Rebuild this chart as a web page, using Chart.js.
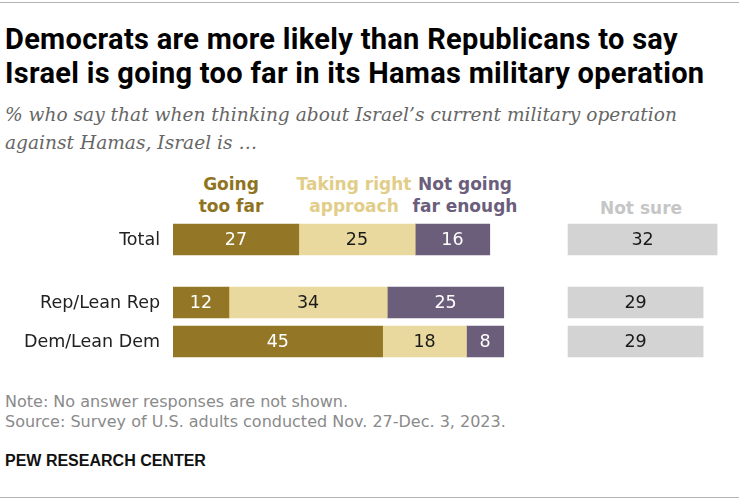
<!DOCTYPE html>
<html lang="en">
<head>
    <meta charset="UTF-8">
    <title>Israel going too far - by party</title>
    <script src="https://cdn.jsdelivr.net/npm/chart.js"></script>
    <style>
        body {
            margin: 0;
            width: 739px;
            height: 500px;
            position: relative;
            background: #fff;
            font-family: "DejaVu Sans", sans-serif;
            overflow: hidden;
        }
        .rule {
            position: absolute;
            left: 0;
            width: 739px;
            height: 1px;
            background: #b4b4b4;
        }
        h1 {
            position: absolute;
            left: 5px;
            top: 22px;
            margin: 0;
            font-family: Roboto, sans-serif;
            font-weight: 700;
            font-size: 29px;
            line-height: 34px;
            color: #000;
            letter-spacing: 0.3px;
            white-space: nowrap;
        }
        .sub {
            position: absolute;
            left: 5px;
            top: 101px;
            margin: 0;
            font-family: "DejaVu Serif", serif;
            font-style: italic;
            font-size: 18.6px;
            line-height: 28px;
            color: #666;
            white-space: nowrap;
        }
        .leg {
            position: absolute;
            font-weight: 700;
            font-size: 17px;
            line-height: 22px;
            text-align: center;
            transform: translateX(-50%);
            white-space: nowrap;
        }
        .chart {
            position: absolute;
            left: 0;
            width: 739px;
        }
        .note {
            position: absolute;
            left: 5px;
            top: 392px;
            font-size: 16px;
            line-height: 19.5px;
            color: #8a8a8a;
            white-space: nowrap;
        }
        .pew {
            position: absolute;
            left: 5px;
            top: 452px;
            font-family: "Liberation Sans", Arial, sans-serif;
            font-size: 16px;
            line-height: 18px;
            font-weight: 700;
            color: #111;
        }
    </style>
</head>
<body>

    <div class="rule" style="top:2px"></div>

    <h1>Democrats are more likely than Republicans to say<br>Israel is going too far in its Hamas military operation</h1>
    <p class="sub">% who say that when thinking about Israel’s current military operation<br>against Hamas, Israel is …</p>

    <!-- Legend headers -->
    <div class="leg" style="left:231px; top:173px; color:#8f7321;">Going<br>too far</div>
    <div class="leg" style="left:354px; top:173px; color:#e2cd88;">Taking right<br>approach</div>
    <div class="leg" style="left:465px; top:173px; color:#6b5e7c;">Not going<br>far enough</div>
    <div class="leg" style="left:641px; top:197px; color:#c6c6c6;">Not sure</div>

    <div class="chart" style="top:219.5px; height:39px;"><canvas id="chartTotal"></canvas></div>
    <div class="chart" style="top:282.5px; height:78px;"><canvas id="chartParty"></canvas></div>

    <div class="note">Note: No answer responses are not shown.<br>Source: Survey of U.S. adults conducted Nov. 27-Dec. 3, 2023.</div>
    <div class="pew">PEW RESEARCH CENTER</div>

    <div class="rule" style="top:497px"></div>

    <script>
        // Data
        const totalLabels = ['Total'];
        const partyLabels = ['Rep/Lean Rep', 'Dem/Lean Dem'];

        const tooFar       = [27, 12, 45];
        const rightWay     = [25, 34, 18];
        const notFarEnough = [16, 25, 8];
        const notSure      = [32, 29, 29];

        const colors = {
            tooFar: '#937726',
            rightWay: '#ead99e',
            notFarEnough: '#6b5e7b',
            notSure: '#d3d3d3'
        };

        // bars start at 173px, scale ~4.66 px per point
        const barLeft = 173;
        const xMax = 121.5;
        const notSureShift = 84.8;

        // value labels inside bars + row labels on the left
        const barLabels = {
            id: 'barLabels',
            afterDatasetsDraw(chart) {
                const ctx = chart.ctx;
                ctx.save();
                ctx.font = '17.5px "DejaVu Sans", sans-serif';
                ctx.textBaseline = 'middle';
                ctx.textAlign = 'center';
                chart.data.datasets.forEach((ds, di) => {
                    chart.getDatasetMeta(di).data.forEach((bar, i) => {
                        ctx.fillStyle = ds.labelColor;
                        ctx.fillText(ds.data[i], (bar.x + bar.base) / 2, bar.y + 1);
                    });
                });
                ctx.textAlign = 'right';
                ctx.fillStyle = '#222';
                const y = chart.scales.y;
                chart.data.labels.forEach((lab, i) => {
                    ctx.fillText(lab, barLeft - 13, y.getPixelForValue(i) + 1);
                });
                ctx.restore();
            }
        };

        function makeChart(id, labels, rows) {
            const pick = arr => rows.map(r => arr[r]);
            return new Chart(document.getElementById(id), {
                type: 'bar',
                data: {
                    labels: labels,
                    datasets: [
                        { label: 'Going too far', data: pick(tooFar), backgroundColor: colors.tooFar, labelColor: '#fff' },
                        { label: 'Taking right approach', data: pick(rightWay), backgroundColor: colors.rightWay, labelColor: '#1a1a1a' },
                        { label: 'Not going far enough', data: pick(notFarEnough), backgroundColor: colors.notFarEnough, labelColor: '#fff' },
                        { label: 'Not sure', data: pick(notSure), backgroundColor: colors.notSure, labelColor: '#1a1a1a', xAxisID: 'x2' }
                    ]
                },
                options: {
                    indexAxis: 'y',
                    responsive: true,
                    maintainAspectRatio: false,
                    animation: false,
                    layout: { padding: { left: barLeft, right: 0, top: 0, bottom: 0 } },
                    barThickness: 31,
                    plugins: {
                        legend: { display: false },
                        tooltip: { enabled: false }
                    },
                    scales: {
                        x: { stacked: true, min: 0, max: xMax, display: false },
                        x2: { stacked: true, min: -notSureShift, max: xMax - notSureShift, display: false },
                        y: { stacked: true, display: false }
                    }
                },
                plugins: [barLabels]
            });
        }

        makeChart('chartTotal', totalLabels, [0]);
        makeChart('chartParty', partyLabels, [1, 2]);
    </script>
</body>
</html>
